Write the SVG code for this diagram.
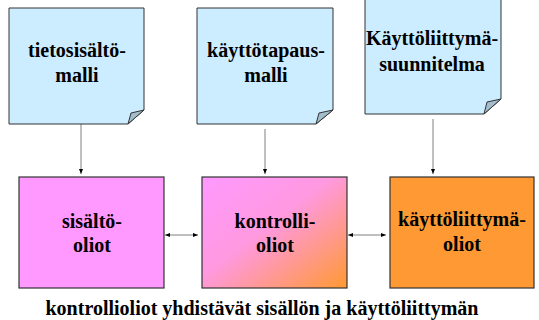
<svg xmlns="http://www.w3.org/2000/svg" width="539" height="320" viewBox="0 0 539 320">
<style>
.note{fill:#CCECFF;stroke:#333;stroke-width:1}
.fold{fill:#A3BDCC;stroke:#333;stroke-width:1}
.box{stroke:#333;stroke-width:1.2}
.c{stroke:#808080;stroke-width:1;fill:none}
text{font-family:"Times New Roman","Liberation Serif",Times,serif;font-weight:bold;font-size:20px;fill:#000;text-anchor:middle}
</style>
<defs>
<marker id="ah" viewBox="0 0 10 10" refX="10" refY="5" markerWidth="5" markerHeight="5" orient="auto-start-reverse" markerUnits="userSpaceOnUse">
<path d="M0,1 L10,5 L0,9 Z" fill="#000"/>
</marker>
<linearGradient id="g" x1="0" y1="0" x2="1" y2="1">
<stop offset="0" stop-color="#FF99FF"/>
<stop offset="0.45" stop-color="#FF99E0"/>
<stop offset="1" stop-color="#FF9933"/>
</linearGradient>
</defs>
<g id="connectors">
<line class="c" x1="81" y1="124" x2="81" y2="174" marker-end="url(#ah)"/>
<line class="c" x1="265" y1="129" x2="265" y2="174" marker-end="url(#ah)"/>
<line class="c" x1="433" y1="119" x2="433" y2="174" marker-end="url(#ah)"/>
<line class="c" x1="165" y1="235" x2="198" y2="235" marker-start="url(#ah)" marker-end="url(#ah)"/>
<line class="c" x1="348" y1="235" x2="386" y2="235" marker-start="url(#ah)" marker-end="url(#ah)"/>
</g>
<g id="note1">
<path class="note" d="M9,8 H144 V110 L128,124 H9 Z"/>
<path class="fold" d="M144,110 L128,124 L131,113 Z"/>
<text x="77" y="57">tietosisältö-</text>
<text x="77" y="82">malli</text>
</g>
<g id="note2">
<path class="note" d="M197,8 H333 V110 L316,124 H197 Z"/>
<path class="fold" d="M333,110 L316,124 L319,113 Z"/>
<text x="266" y="57">käyttötapaus-</text>
<text x="266" y="82">malli</text>
</g>
<g id="note3">
<path class="note" d="M365,-2 H501 V99 L484,114 H365 Z"/>
<path class="fold" d="M501,99 L484,114 L487,102 Z"/>
<text x="432" y="45">Käyttöliittymä-</text>
<text x="432" y="71">suunnitelma</text>
</g>
<g id="box1">
<rect class="box" x="19" y="177" width="145" height="111" fill="#FF99FF"/>
<text x="92" y="228">sisältö-</text>
<text x="92" y="252">oliot</text>
</g>
<g id="box2">
<rect class="box" x="202" y="177" width="145" height="111" fill="url(#g)"/>
<text x="275" y="228">kontrolli-</text>
<text x="275" y="252">oliot</text>
</g>
<g id="box3">
<rect class="box" x="390" y="177" width="144" height="111" fill="#FF9933"/>
<text x="462" y="226">käyttöliittymä-</text>
<text x="462" y="251">oliot</text>
</g>
<text x="262" y="315">kontrollioliot yhdistävät sisällön ja käyttöliittymän</text>
</svg>
